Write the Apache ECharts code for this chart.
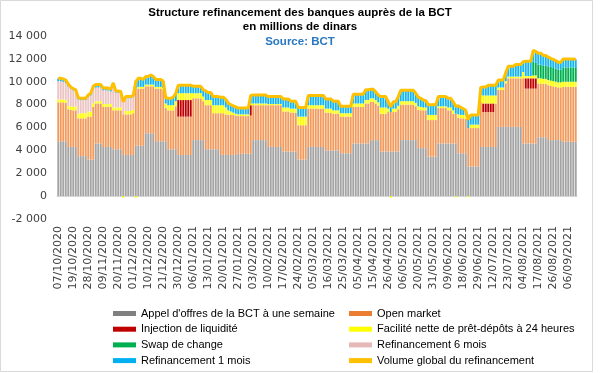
<!DOCTYPE html>
<html>
<head>
<meta charset="utf-8">
<script src="https://cdn.jsdelivr.net/npm/echarts@6/dist/echarts.min.js"></script>
<style>
  html, body { margin: 0; padding: 0; background: #ffffff; }
  #chart { width: 600px; height: 373px; }
</style>
</head>
<body>
<div id="chart"></div>
<script>
// Tick labels (one every 6 observations)
const tickLabels = ['07/10/2020','19/10/2020','28/10/2020','09/11/2020','20/11/2020','01/12/2020','10/12/2020','21/12/2020','30/12/2020','06/01/2021','13/01/2021','20/01/2021','27/01/2021','03/02/2021','10/02/2021','17/02/2021','24/02/2021','05/03/2021','16/03/2021','25/03/2021','05/04/2021','15/04/2021','26/04/2021','06/05/2021','20/05/2021','31/05/2021','09/06/2021','18/06/2021','29/06/2021','12/07/2021','23/07/2021','04/08/2021','17/08/2021','26/08/2021','06/09/2021'];

const yTicks = [-2000, 0, 2000, 4000, 6000, 8000, 10000, 12000, 14000];

const seriesNames = ["Appel d'offres de la BCT à une semaine", 'Open market', 'Injection de liquidité', 'Facilité nette de prêt-dépôts à 24 heures', 'Swap de change', 'Refinancement 6 mois', 'Refinancement 1 mois', 'Volume global du refinancement'];

const appelOffres = [
 4800,4800,4800,4800,
 4300,4300,4300,4300,
 3500,3500,3500,3500,
 3200,3200,3200,
 4600,4600,4600,
 4300,4300,4300,4300,
 4100,4100,4100,4100,
 3600,3600,3600,3600,3600,
 4400,4400,4400,4400,
 5500,5500,5500,5500,
 4800,4800,4800,4800,4800,
 4100,4100,4100,4100,
 3600,3600,3600,3600,3600,3600,
 4900,4900,4900,4900,4900,
 4100,4100,4100,4100,4100,4100,
 3600,3600,3600,3600,3600,3600,3600,
 3700,3700,3700,3700,3700,3700,
 4900,4900,4900,4900,4900,4900,
 4300,4300,4300,4300,4300,4300,
 3900,3900,3900,3900,3900,3900,
 3200,3200,3200,3200,
 4300,4300,4300,4300,4300,4300,4300,
 4000,4000,4000,4000,4000,4000,
 3750,3750,3750,3750,3750,
 4600,4600,4600,4600,4600,4600,4600,
 4900,4900,4900,4900,
 3900,3900,3900,3900,3900,3900,3900,3900,
 4900,4900,4900,4900,4900,4900,4900,
 4200,4200,4200,4200,
 3450,3450,3450,3450,
 4600,4600,4600,4600,4600,4600,4600,4600,
 3750,3750,3750,3750,
 2600,2600,2600,2600,2600,
 4300,4300,4300,4300,4300,4300,4300,
 6050,6050,6050,6050,6050,6050,6050,6050,6050,6050,
 4600,4600,4600,4600,4600,4600,
 5150,5150,5150,5150,
 4900,4900,4900,4900,4900,4900,
 4750,4750,4750,4750,4750,4750
];

const openMarket = [
 3400,3400,3400,3350,
 3300,3250,3200,3200,
 3300,3300,3300,3300,
 3750,3750,4600,
 3500,3500,3500,
 3500,3500,3500,3500,
 3400,3400,3400,3400,
 3550,3550,3550,3550,3650,
 5000,5000,5000,5000,
 4100,4100,4100,4100,
 4600,4600,4600,4500,2900,
 3400,3400,3400,3750,
 3350,3350,3350,3350,3350,3350,
 3650,3650,3650,3650,3400,
 3850,3850,3850,3150,3150,3150,
 3650,3650,3550,3500,3500,3500,3450,
 3300,3300,3300,3300,3300,3350,
 3050,3050,3050,3050,3050,3050,
 3650,3650,3650,3650,3650,3650,
 3500,3500,3500,3400,3400,3400,
 3000,3000,3000,3000,
 3350,3350,3350,3350,3350,3350,3350,
 3300,3300,3300,3200,3200,3200,
 3200,3200,3200,3200,3200,
 3200,3200,3200,3200,3200,3500,3500,
 3350,3350,3200,3000,
 3300,3300,3300,3450,3450,3450,3450,3700,
 3100,3100,3100,3100,3100,3100,2950,
 3350,3300,3300,3300,
 3200,3200,3200,3200,
 3100,3100,3100,3100,2900,2900,2600,2600,
 3100,3050,3050,3000,
 3350,3350,3350,3350,3350,
 3950,3050,3050,3050,3050,3050,3800,
 3250,3250,3250,3800,4250,4250,4250,4250,4250,4250,
 5700,4800,4800,4800,4800,4800,
 4700,4700,4650,4650,
 4800,4750,4700,4650,4600,4600,
 4800,4800,4800,4800,4800,4800
];

const injection = [
 0,0,0,0,
 0,0,0,0,
 0,0,0,0,
 0,0,0,
 0,0,0,
 0,0,0,0,
 0,0,0,0,
 0,0,0,0,0,
 0,0,0,0,
 0,0,0,0,
 0,0,0,0,0,
 0,0,0,0,
 1450,1450,1450,1450,1450,1450,
 0,0,0,0,0,
 0,0,0,0,0,0,
 0,0,0,0,0,0,0,
 0,0,0,0,0,900,
 0,0,0,0,0,0,
 0,0,0,0,0,0,
 0,0,0,0,0,0,
 0,0,0,0,
 0,0,0,0,0,0,0,
 0,0,0,0,0,0,
 0,0,0,0,0,
 0,0,0,0,0,0,0,
 0,0,0,0,
 0,0,0,0,0,0,0,0,
 0,0,0,0,0,0,0,
 0,0,0,0,
 0,0,0,0,
 0,0,0,0,0,0,0,0,
 0,0,0,0,
 0,0,0,0,0,
 0,750,750,750,750,750,0,
 0,0,0,0,0,0,0,0,0,0,
 0,900,900,900,900,900,
 0,0,0,0,
 0,0,0,0,0,0,
 0,0,0,0,0,0
];

const facilite24h = [
 250,250,250,250,
 300,300,300,350,
 400,450,450,450,
 450,450,300,
 200,200,200,
 250,250,250,250,
 250,250,250,250,
 -150,300,300,300,300,
 -150,150,150,150,
 150,150,150,150,
 150,150,150,150,400,
 450,450,450,450,
 600,600,600,600,600,600,
 450,450,450,450,400,
 450,450,450,700,700,700,
 700,700,600,400,300,200,150,
 150,150,150,150,150,150,
 150,150,150,150,150,150,
 100,100,100,100,100,100,
 350,350,350,350,350,350,
 750,750,750,750,
 300,300,300,300,300,300,300,
 350,350,350,300,300,300,
 300,300,300,300,300,
 300,300,300,300,300,300,300,
 300,300,300,300,
 550,550,550,300,-150,300,300,300,
 300,300,300,300,300,300,300,
 300,300,250,250,
 450,450,450,450,
 150,150,150,150,250,250,300,-100,
 300,300,300,300,
 -100,300,300,300,300,
 600,700,700,700,700,700,700,
 200,200,200,200,150,150,150,150,150,150,
 550,200,200,200,250,250,
 450,450,450,450,
 450,450,450,450,450,450,
 450,450,450,450,450,450
];

const swapChange = [
 0,0,0,0,
 0,0,0,0,
 0,0,0,0,
 0,0,0,
 0,0,0,
 0,0,0,0,
 0,0,0,0,
 0,0,0,0,0,
 0,0,0,0,
 0,0,0,0,
 0,0,0,0,0,
 0,0,0,0,
 0,0,0,0,0,0,
 0,0,0,0,0,
 0,0,0,0,0,0,
 0,0,0,0,0,0,0,
 0,0,0,0,0,0,
 0,0,0,0,0,0,
 0,0,0,0,0,0,
 0,0,0,0,0,0,
 0,0,0,0,
 0,0,0,0,0,0,0,
 0,0,0,0,0,0,
 0,0,0,0,0,
 0,0,0,0,0,0,0,
 0,0,0,0,
 0,0,0,0,0,0,0,0,
 0,0,0,0,0,0,0,
 0,0,0,0,
 0,0,0,0,
 0,0,0,0,0,0,0,0,
 0,0,0,0,
 0,0,0,0,0,
 0,0,0,0,0,0,0,
 0,0,0,0,0,0,0,0,0,0,
 0,0,0,0,1200,1100,
 1200,1200,1150,1150,
 1200,1200,1150,1150,1100,1100,
 1250,1250,1250,1250,1250,1200
];

const refi6Mois = [
 1600,1600,1550,1500,
 1700,1550,1450,1300,
 1250,1150,1150,1150,
 1250,1400,1300,
 1200,1200,1200,
 1200,1200,1200,1100,
 1950,1300,1300,1250,
 1100,1100,1100,1100,1100,
 0,0,0,0,
 0,0,0,0,
 0,0,0,0,0,
 0,0,0,0,
 0,0,0,0,0,0,
 0,0,0,0,0,
 0,0,0,0,0,0,
 0,0,0,0,0,0,0,
 0,0,0,0,0,0,
 0,0,0,0,0,0,
 0,0,0,0,0,0,
 0,0,0,0,0,0,
 0,0,0,0,
 0,0,0,0,0,0,0,
 0,0,0,0,0,0,
 0,0,0,0,0,
 0,0,0,0,0,0,0,
 0,0,0,0,
 0,0,0,0,0,0,0,0,
 0,0,0,0,0,0,0,
 0,0,0,0,
 0,0,0,0,
 0,0,0,0,0,0,0,0,
 0,0,0,0,
 0,0,0,0,0,
 0,0,0,0,0,0,0,
 0,0,0,0,0,0,0,0,0,0,
 0,0,0,0,0,0,
 0,0,0,0,
 0,0,0,0,0,0,
 0,0,0,0,0,0
];

const refi1Mois = [
 250,250,250,250,
 200,150,150,150,
 150,150,150,150,
 200,200,200,
 250,250,250,
 200,200,200,200,
 200,150,150,150,
 150,150,150,150,150,
 750,750,750,650,
 700,700,850,700,
 650,650,650,600,500,
 600,600,700,700,
 700,700,700,700,700,700,
 600,600,600,600,600,
 800,650,650,750,750,750,
 700,700,700,650,600,600,600,
 550,550,550,550,550,700,
 750,750,750,750,750,750,
 650,650,650,650,650,650,
 750,750,750,650,650,650,
 800,800,800,800,
 850,850,850,850,850,850,850,
 850,850,850,800,800,800,
 600,600,600,600,600,
 800,800,800,800,800,900,900,
 800,800,700,650,
 950,950,950,600,600,600,600,800,
 950,950,950,950,950,950,850,
 800,750,650,600,
 900,900,900,900,
 850,850,850,850,800,800,750,750,
 750,650,550,450,
 850,850,850,850,850,
 650,750,750,900,900,900,900,
 650,650,650,750,900,900,900,1050,1050,1050,
 900,1300,1300,1300,1000,1000,
 1000,1000,900,900,
 800,750,750,700,650,650,
 750,750,750,750,750,750
];

// Build categories from the tick labels (one label every 6 observations)
const N = appelOffres.length;
const categories = [];
for (let i = 0; i < N; i++) categories.push(i % 6 === 0 ? tickLabels[i / 6] : '');

// Total volume = sum of all components
const components = [appelOffres, openMarket, injection, facilite24h, swapChange, refi6Mois, refi1Mois];
const volumeGlobal = appelOffres.map((_, i) => components.reduce((s, a) => s + a[i], 0));

// bar fill colours (look lighter because of the thin white gaps in the original) and legend swatch colours
const barColors = ['#a4a4a4', '#f29a5c', '#c00000', '#ffff00', '#00b050', '#ebc4c3', '#14b4ee', '#ffc000'];
const legendColors = ['#808080', '#ed7d31', '#c00000', '#ffff00', '#00b050', '#e6b9b8', '#00b0f0', '#ffc000'];

const chart = echarts.init(document.getElementById('chart'), null, { renderer: 'canvas' });

const barSeries = components.map((arr, k) => ({
  name: seriesNames[k],
  type: 'bar',
  stack: 'total',
  data: arr,
  barCategoryGap: '24%',
  itemStyle: { color: barColors[k] },
  emphasis: { disabled: true }
}));

const fmt = v => String(v).replace(/\B(?=(\d{3})+(?!\d))/g, ' ');

const legendText = { fontFamily: "'Liberation Sans', Arial, sans-serif", fontSize: 11, color: '#000', lineHeight: 11 };
const legendItem = k => ({ name: seriesNames[k], itemStyle: { color: legendColors[k] } });
const titleFont = { fontFamily: "'Liberation Sans', Arial, sans-serif", fontWeight: 'bold', fontSize: 11.5, color: '#000' };

chart.setOption({
  animation: false,
  backgroundColor: '#ffffff',
  color: barColors,
  title: [
    { text: 'Structure refinancement des banques auprès de la BCT', left: 'center', top: 7, padding: 0, textStyle: titleFont },
    { text: 'en millions de dinars', left: 'center', top: 21, padding: 0, textStyle: titleFont },
    { text: 'Source: BCT', left: 'center', top: 36, padding: 0, textStyle: Object.assign({}, titleFont, { color: '#2a78c2' }) }
  ],
  legend: [
    { orient: 'vertical', left: 113, top: 308, padding: 0, itemGap: 4.7, itemWidth: 23, itemHeight: 5, icon: 'rect',
      textStyle: legendText, selectedMode: false,
      data: [legendItem(0), legendItem(2), legendItem(4), legendItem(6)] },
    { orient: 'vertical', left: 349, top: 308, padding: 0, itemGap: 4.7, itemWidth: 23, itemHeight: 5, icon: 'rect',
      textStyle: legendText, selectedMode: false,
      data: [legendItem(1), legendItem(3), legendItem(5), legendItem(7)] }
  ],
  grid: { left: 57, right: 23, top: 36, bottom: 154, containLabel: false },
  xAxis: {
    type: 'category',
    data: categories,
    boundaryGap: true,
    axisLine: { onZero: true, lineStyle: { color: '#d9d9d9', width: 1 } },
    axisTick: { show: false },
    axisLabel: { interval: 5, rotate: 90, margin: 7, fontFamily: "'DejaVu Sans', sans-serif", fontSize: 11, color: '#404040' },
    splitLine: { show: false }
  },
  yAxis: {
    type: 'value',
    min: yTicks[0],
    max: yTicks[yTicks.length - 1],
    interval: 2000,
    axisLine: { show: false },
    axisTick: { show: false },
    splitLine: { show: false },
    axisLabel: { margin: 10, formatter: fmt, fontFamily: "'DejaVu Sans', sans-serif", fontSize: 11, color: '#404040' }
  },
  graphic: [
    { type: 'rect', shape: { x: 0.5, y: 0.5, width: 592, height: 371 }, style: { fill: null, stroke: '#d9d9d9', lineWidth: 1 }, silent: true, z: -10 }
  ],
  series: barSeries.concat([{
    name: seriesNames[7],
    type: 'line',
    data: volumeGlobal,
    symbol: 'none',
    z: 10,
    lineStyle: { color: '#ffc000', width: 3 },
    itemStyle: { color: '#ffc000' },
    emphasis: { disabled: true }
  }])
});
</script>
</body>
</html>
